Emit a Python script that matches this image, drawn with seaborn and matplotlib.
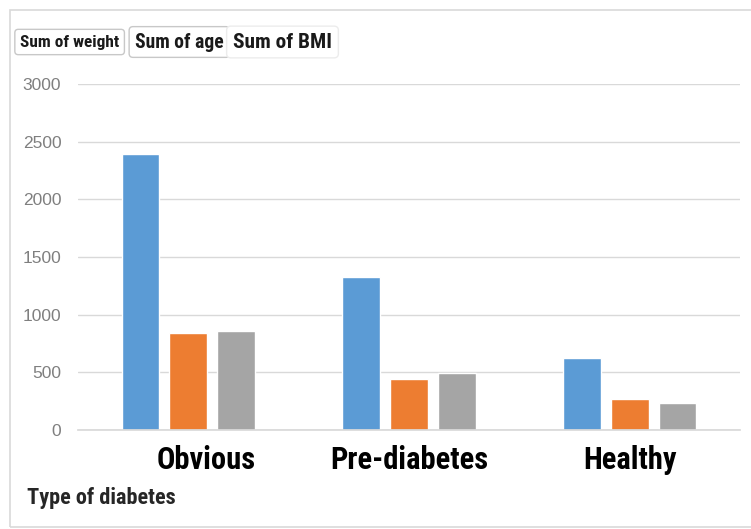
import matplotlib
matplotlib.use('Agg')
import matplotlib.pyplot as plt
import matplotlib.patches as mpatches
import matplotlib.transforms as mtransforms
from matplotlib import font_manager
import pandas as pd
import seaborn as sns

# data
categories = ['Obvious', 'Pre-diabetes', 'Healthy']
series = ['Sum of weight', 'Sum of age', 'Sum of BMI']
weight = [2390, 1328, 622]
age = [840, 442, 273]
bmi = [855, 494, 238]
y_ticks = [0, 500, 1000, 1500, 2000, 2500, 3000]

colors = ['#5B9BD5', '#ED7D31', '#A5A5A5']

# pick the narrowest family that is actually installed
installed = {f.name for f in font_manager.fontManager.ttflist}
narrow_name = 'Roboto'
for cand in ['Roboto Condensed', 'Liberation Sans Narrow', 'Open Sans Condensed']:
    if cand in installed:
        narrow_name = cand
        break
narrow = [narrow_name, 'DejaVu Sans']
is_condensed = narrow_name != 'Roboto'
k = 1.0 if is_condensed else 0.85  # shrink text a bit when only normal width is there

df = pd.DataFrame({
    'type': categories * 3,
    'series': [series[0]] * 3 + [series[1]] * 3 + [series[2]] * 3,
    'value': weight + age + bmi,
})

sns.set_theme(style='white')
plt.rcParams['font.family'] = ['Liberation Sans', 'DejaVu Sans']

fig = plt.figure(figsize=(7.51, 5.29), dpi=100)
ax = fig.add_axes([78 / 751, 1 - 430 / 529, 662 / 751, 346 / 529])

sns.barplot(data=df, x='type', y='value', hue='series', hue_order=series,
            order=categories, palette=colors, width=0.65, gap=0.21,
            saturation=1, errorbar=None, legend=False, ax=ax)

ax.set_xlim(-0.5, 2.5)
ax.set_ylim(0, 3000)
ax.set_yticks(y_ticks)
ax.set_yticklabels([str(v) for v in y_ticks], fontsize=12.5, color='#7f7f7f')
ax.yaxis.grid(True, color='#d9d9d9', linewidth=1)
ax.set_axisbelow(True)
for s in ['top', 'right', 'left']:
    ax.spines[s].set_visible(False)
ax.spines['bottom'].set_color('#d9d9d9')
ax.tick_params(axis='y', length=0, pad=12)
ax.tick_params(axis='x', length=0, pad=11)
ax.set_ylabel('')

ax.set_xticks(range(len(categories)))
ax.set_xticklabels(categories, fontsize=22 * k, fontweight='bold', color='black', family=narrow)
# the first category label sits a bit right of its group in the reference
shift = mtransforms.ScaledTranslation(18 / 100, 0, fig.dpi_scale_trans)
lbl = ax.get_xticklabels()[0]
lbl.set_transform(lbl.get_transform() + shift)

ax.set_xlabel('Type of diabetes', fontsize=16 * k, fontweight='bold', family=narrow,
              ha='left', va='center')
ax.xaxis.set_label_coords((27 - 78) / 662, (430 - 498) / 346)

# legend entries appear as plain boxed labels with no swatches
legend_x = [20, 135, 233]
legend_size = [12.4, 14.1, 15.3]
for i, name in enumerate(series):
    ec = '#c8c8c8' if i < 2 else '#ececec'
    fig.text(legend_x[i] / 751, 1 - 42 / 529, name, fontsize=legend_size[i] * k,
             fontweight='bold', family=narrow, ha='left', va='center', color='#1a1a1a',
             bbox=dict(boxstyle='round,pad=0.3,rounding_size=0.2', fc='white', ec=ec, lw=1))

# light chart-area border
border = mpatches.Rectangle((10 / 751, 2 / 529), 1.0, 517 / 529, transform=fig.transFigure,
                            fill=False, ec='#d9d9d9', lw=1.2)
fig.patches.append(border)

fig.savefig('out.png', dpi=100, facecolor='white')
